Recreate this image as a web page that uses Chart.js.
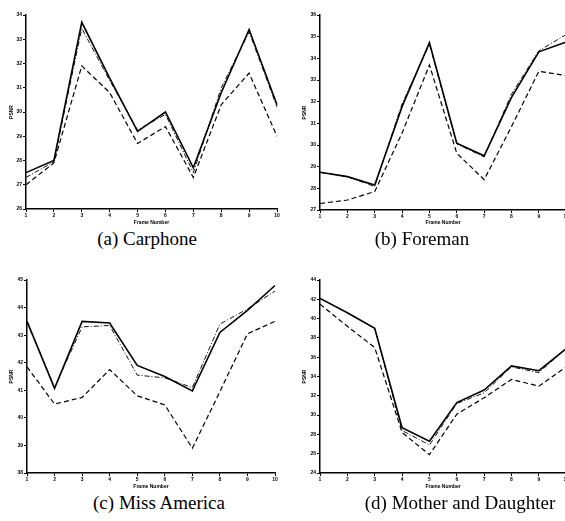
<!DOCTYPE html>
<html>
<head>
<meta charset="utf-8">
<script src="https://cdn.jsdelivr.net/npm/chart.js@4.4.0/dist/chart.umd.min.js"></script>
<style>
  html, body { margin: 0; padding: 0; background: #fff; overflow: hidden; }
  body { width: 565px; height: 521px; position: relative; }
  .panel { position: absolute; }
  .cap { position: absolute; width: 240px; text-align: center; font-family: "Liberation Serif", "DejaVu Serif", serif; font-size: 19px; color: #000; }
</style>
</head>
<body>
<div class="panel" style="left:0px;top:0px;width:282px;height:226px"><canvas id="chartA"></canvas></div>
<div class="panel" style="left:280px;top:0px;width:290px;height:226px"><canvas id="chartB"></canvas></div>
<div class="panel" style="left:0px;top:265px;width:282px;height:225px"><canvas id="chartC"></canvas></div>
<div class="panel" style="left:280px;top:265px;width:290px;height:225px"><canvas id="chartD"></canvas></div>

<div class="cap" style="left:27px;top:228px">(a) Carphone</div>
<div class="cap" style="left:302px;top:228px">(b) Foreman</div>
<div class="cap" style="left:39px;top:492px">(c) Miss America</div>
<div class="cap" style="left:340px;top:492px">(d) Mother and Daughter</div>

<script>
// frame numbers on the x axis
const frames = [1, 2, 3, 4, 5, 6, 7, 8, 9, 10];

// (a) Carphone
const carphoneSolid   = [27.5, 28.0, 33.7, 31.4, 29.2, 30.0, 27.7, 30.8, 33.4, 30.3];
const carphoneDashDot = [27.3, 27.95, 33.45, 31.3, 29.25, 29.9, 27.5, 31.0, 33.3, 30.2];
const carphoneDashed  = [27.0, 27.9, 31.9, 30.8, 28.7, 29.4, 27.3, 30.3, 31.6, 29.0];
const carphoneTicks   = [26, 34, 1];

// (b) Foreman
const foremanSolid   = [28.74, 28.54, 28.15, 31.77, 34.72, 30.08, 29.5, 32.2, 34.3, 34.75];
const foremanDashDot = [28.74, 28.54, 28.08, 31.9, 34.65, 30.05, 29.45, 32.35, 34.35, 35.1];
const foremanDashed  = [27.3, 27.46, 27.85, 30.55, 33.69, 29.62, 28.4, 30.85, 33.4, 33.2];
const foremanTicks   = [27, 36, 1];

// (c) Miss America
const missSolid   = [43.5, 41.07, 43.5, 43.44, 41.9, 41.5, 40.98, 43.1, 43.9, 44.8];
const missDashDot = [43.5, 41.1, 43.3, 43.35, 41.55, 41.45, 41.1, 43.4, 43.95, 44.6];
const missDashed  = [41.85, 40.5, 40.74, 41.75, 40.8, 40.47, 38.9, 40.95, 43.05, 43.5];
const missTicks   = [38, 45, 1];

// (d) Mother and Daughter
const motherSolid   = [42.1, 40.6, 39.0, 28.7, 27.3, 31.3, 32.6, 35.1, 34.6, 36.9];
const motherDashDot = [42.1, 40.6, 39.0, 28.4, 26.9, 31.2, 32.3, 35.0, 34.4, 36.9];
const motherDashed  = [41.5, 39.2, 37.0, 28.2, 25.9, 30.1, 31.8, 33.7, 33.0, 35.0];
const motherTicks   = [24, 44, 2];

const tinyFont = { family: "Liberation Sans", size: 5, weight: "bold" };

function makePanel(id, solid, dashDot, dashed, ticks, box) {
    const ctx = document.getElementById(id).getContext("2d");
    new Chart(ctx, {
        type: "line",
        data: {
            labels: frames,
            datasets: [
                { data: solid, borderColor: "#000", borderWidth: 1.6, pointRadius: 0, tension: 0 },
                { data: dashDot, borderColor: "#111", borderWidth: 1, borderDash: [5, 2, 1, 2], pointRadius: 0, tension: 0 },
                { data: dashed, borderColor: "#000", borderWidth: 1.2, borderDash: [5, 3], pointRadius: 0, tension: 0 },
            ],
        },
        options: {
            responsive: true,
            maintainAspectRatio: false,
            animation: false,
            events: [],
            layout: { padding: { top: box.top, right: box.right, left: 0, bottom: 0 } },
            plugins: { legend: { display: false }, tooltip: { enabled: false } },
            scales: {
                x: {
                    offset: false,
                    grid: { display: true, drawOnChartArea: false, tickLength: 3, color: "#000" },
                    border: { color: "#000", width: 1.5 },
                    ticks: { color: "#000", font: tinyFont, padding: 1, maxRotation: 0, autoSkip: false },
                    title: { display: true, text: "Frame Number", color: "#000", font: tinyFont, padding: 0 },
                    afterFit: (scale) => { scale.height = box.bottom; },
                },
                y: {
                    min: ticks[0],
                    max: ticks[1],
                    grid: { display: true, drawOnChartArea: false, tickLength: 3, color: "#000" },
                    border: { color: "#000", width: 1.5 },
                    ticks: { stepSize: ticks[2], color: "#000", font: tinyFont, padding: 1 },
                    title: { display: true, text: "PSNR", color: "#000", font: tinyFont, padding: { top: box.titlePad, bottom: 0 } },
                    afterFit: (scale) => { scale.width = box.left; },
                },
            },
        },
    });
}

makePanel("chartA", carphoneSolid, carphoneDashDot, carphoneDashed, carphoneTicks, { left: 26, right: 5, top: 15, bottom: 17, titlePad: 9 });
makePanel("chartB", foremanSolid, foremanDashDot, foremanDashed, foremanTicks, { left: 40, right: 3, top: 15, bottom: 16, titlePad: 22 });
makePanel("chartC", missSolid, missDashDot, missDashed, missTicks, { left: 27, right: 7, top: 15, bottom: 17, titlePad: 9 });
makePanel("chartD", motherSolid, motherDashDot, motherDashed, motherTicks, { left: 40, right: 3, top: 15, bottom: 17, titlePad: 22 });
</script>
</body>
</html>
